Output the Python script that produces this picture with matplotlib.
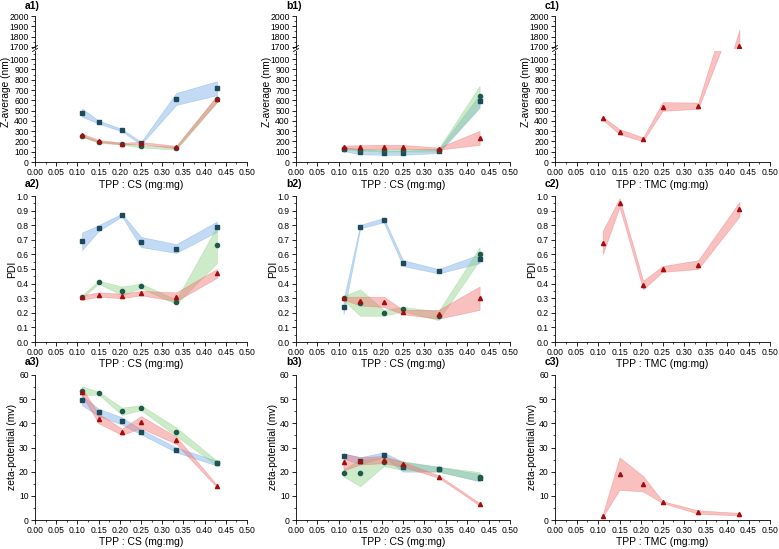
import numpy as np
import matplotlib.pyplot as plt
from matplotlib.ticker import MultipleLocator, FormatStrFormatter

plt.rcParams['font.family'] = ['Liberation Sans', 'DejaVu Sans']

W, H = 779, 549

# TPP : polymer mass ratio
ratio = [0.111, 0.15, 0.205, 0.25, 0.333, 0.429]

# Z-average (nm), mean and sd
a1_sq = [480, 388, 310, 183, 613, 718]
a1_sq_sd = [40, 15, 12, 12, 58, 68]
a1_ci = [255, 195, 178, 152, 135, 610]
a1_ci_sd = [10, 8, 8, 10, 15, 30]
a1_tr = [262, 205, 180, 185, 145, 615]
a1_tr_sd = [15, 10, 8, 10, 12, 30]

b1_sq = [125, 100, 90, 90, 105, 592]
b1_sq_sd = [18, 25, 20, 20, 18, 65]
b1_ci = [130, 120, 112, 115, 115, 640]
b1_ci_sd = [10, 10, 12, 12, 15, 100]
b1_tr = [145, 145, 148, 148, 130, 235]
b1_tr_sd = [15, 18, 20, 18, 10, 68]

c1_tr = [425, 295, 220, 540, 548, 1710]
c1_tr_sd = [15, 25, 18, 42, 30, 160]

# PDI
a2_sq = [0.69, 0.78, 0.87, 0.685, 0.64, 0.79]
a2_sq_sd = [0.06, 0.02, 0.01, 0.035, 0.03, 0.035]
a2_ci = [0.31, 0.41, 0.35, 0.385, 0.275, 0.665]
a2_ci_sd = [0.01, 0.01, 0.03, 0.015, 0.015, 0.125]
a2_tr = [0.305, 0.325, 0.315, 0.335, 0.31, 0.47]
a2_tr_sd = [0.015, 0.015, 0.015, 0.015, 0.03, 0.03]

b2_sq = [0.24, 0.79, 0.835, 0.54, 0.485, 0.57]
b2_sq_sd = [0.05, 0.012, 0.015, 0.02, 0.015, 0.03]
b2_ci = [0.30, 0.27, 0.20, 0.225, 0.18, 0.605]
b2_ci_sd = [0.015, 0.09, 0.02, 0.015, 0.03, 0.045]
b2_tr = [0.30, 0.28, 0.275, 0.205, 0.19, 0.30]
b2_tr_sd = [0.01, 0.03, 0.035, 0.015, 0.03, 0.08]

c2_tr = [0.68, 0.955, 0.39, 0.50, 0.53, 0.91]
c2_tr_sd = [0.08, 0.03, 0.03, 0.02, 0.03, 0.05]

# zeta-potential (mV)
a3_sq = [49.5, 44.5, 41, 36.5, 29, 23.5]
a3_sq_sd = [2, 1.5, 1.5, 1, 1, 1]
a3_ci = [53.5, 52.5, 45, 46.5, 36.5, 23.5]
a3_ci_sd = [1.8, 0.6, 1.5, 1, 1.8, 1]
a3_tr = [53, 42, 36.5, 40.5, 33, 14]
a3_tr_sd = [1.5, 2, 1.3, 2.5, 1.5, 0.5]

b3_sq = [26.5, 24.5, 27, 22, 21, 17.5]
b3_sq_sd = [1, 1.5, 1, 2, 1, 1.5]
b3_ci = [19.5, 19.5, 24, 22.5, 21, 18]
b3_ci_sd = [1.5, 5.5, 1.7, 1.8, 1, 1.8]
b3_tr = [24, 24.5, 25, 23, 18, 6.5]
b3_tr_sd = [3.5, 1.5, 1.5, 1, 0.5, 0.5]

c3_tr = [1.8, 19.2, 15, 7.4, 3.3, 2.4]
c3_tr_sd = [0.5, 6.7, 3.2, 0.4, 0.7, 0.5]

fill_col = {'sq': '#6ea8e6', 'ci': '#88d07e', 'tr': '#f26a6a'}
mark_col = {'sq': '#1d4a5a', 'ci': '#1d5a4a', 'tr': '#a50d0d'}
mark_shape = {'sq': 's', 'ci': 'o', 'tr': '^'}


def rect(x0, x1, y0, y1):
    # pixel box (top y0, bottom y1) -> figure fraction
    return [x0 / W, 1 - y1 / H, (x1 - x0) / W, (y1 - y0) / H]


def style(ax, xaxis=True):
    for s in ['top', 'right']:
        ax.spines[s].set_visible(False)
    for s in ['left', 'bottom']:
        ax.spines[s].set_linewidth(0.6)
    ax.tick_params(which='major', direction='out', length=3, width=0.6,
                   labelsize=6.2, pad=1.5)
    ax.tick_params(which='minor', direction='out', length=1.6, width=0.5)
    ax.set_xlim(0, 0.5)
    ax.xaxis.set_major_locator(MultipleLocator(0.05))
    ax.xaxis.set_minor_locator(MultipleLocator(0.025))
    ax.xaxis.set_major_formatter(FormatStrFormatter('%.2f'))
    if not xaxis:
        ax.spines['bottom'].set_visible(False)
        ax.tick_params(axis='x', which='both', bottom=False, labelbottom=False)


def band(ax, y, sd, kind):
    y = np.array(y)
    sd = np.array(sd)
    ax.fill_between(ratio, y - sd, y + sd, color=fill_col[kind], alpha=0.42,
                    lw=0.5, edgecolor=fill_col[kind], zorder=2)
    ax.plot(ratio, y, ls='none', marker=mark_shape[kind], ms=3,
            mfc=mark_col[kind], mec=mark_col[kind], zorder=5)


fig = plt.figure(figsize=(W / 100, H / 100), dpi=100)

cols = [(35, 247), (296, 510), (555, 770)]
names = ['a', 'b', 'c']
xlabels = ['TPP : CS (mg:mg)', 'TPP : CS (mg:mg)', 'TPP : TMC (mg:mg)']

row1 = [[(a1_sq, a1_sq_sd, 'sq'), (a1_ci, a1_ci_sd, 'ci'), (a1_tr, a1_tr_sd, 'tr')],
        [(b1_sq, b1_sq_sd, 'sq'), (b1_ci, b1_ci_sd, 'ci'), (b1_tr, b1_tr_sd, 'tr')],
        [(c1_tr, c1_tr_sd, 'tr')]]
row2 = [[(a2_sq, a2_sq_sd, 'sq'), (a2_ci, a2_ci_sd, 'ci'), (a2_tr, a2_tr_sd, 'tr')],
        [(b2_sq, b2_sq_sd, 'sq'), (b2_ci, b2_ci_sd, 'ci'), (b2_tr, b2_tr_sd, 'tr')],
        [(c2_tr, c2_tr_sd, 'tr')]]
row3 = [[(a3_sq, a3_sq_sd, 'sq'), (a3_ci, a3_ci_sd, 'ci'), (a3_tr, a3_tr_sd, 'tr')],
        [(b3_sq, b3_sq_sd, 'sq'), (b3_ci, b3_ci_sd, 'ci'), (b3_tr, b3_tr_sd, 'tr')],
        [(c3_tr, c3_tr_sd, 'tr')]]

for i, (x0, x1) in enumerate(cols):
    xc = (x0 + x1) / 2

    # row 1: broken axis
    top = fig.add_axes(rect(x0, x1, 16, 48))
    bot = fig.add_axes(rect(x0, x1, 51, 162))
    for ax in (top, bot):
        for y, sd, k in row1[i]:
            band(ax, y, sd, k)
    style(top, xaxis=False)
    style(bot)
    top.set_ylim(1690, 2000)
    top.yaxis.set_major_locator(MultipleLocator(100))
    top.yaxis.set_minor_locator(MultipleLocator(50))
    bot.set_ylim(0, 1080)
    bot.set_yticks(np.arange(0, 1001, 100))
    bot.yaxis.set_minor_locator(MultipleLocator(50))
    # break marks on the y axis
    for dy in (-2.5, 0.5):
        yy = 1 - (49.5 + dy) / H
        fig.add_artist(plt.Line2D([(x0 - 2.5) / W, (x0 + 2.5) / W],
                                  [yy - 1.5 / H, yy + 1.5 / H],
                                  color='black', lw=0.6))
    fig.text((x0 - 29) / W, 1 - 92 / H, 'Z-average (nm)', rotation=90,
             ha='center', va='center', fontsize=7.3)
    fig.text(xc / W, 1 - 185 / H, xlabels[i], ha='center', va='center', fontsize=7.5)
    fig.text((x0 - 10) / W, 1 - 6 / H, names[i] + '1)', ha='left', va='center',
             fontsize=7.5, fontweight='bold')

    # row 2: PDI
    ax = fig.add_axes(rect(x0, x1, 196, 342))
    for y, sd, k in row2[i]:
        band(ax, y, sd, k)
    style(ax)
    ax.set_ylim(0, 1.0)
    ax.yaxis.set_major_locator(MultipleLocator(0.1))
    ax.yaxis.set_minor_locator(MultipleLocator(0.05))
    ax.yaxis.set_major_formatter(FormatStrFormatter('%.1f'))
    fig.text((x0 - 23) / W, 1 - 269 / H, 'PDI', rotation=90,
             ha='center', va='center', fontsize=7.5)
    fig.text(xc / W, 1 - 364 / H, xlabels[i], ha='center', va='center', fontsize=7.5)
    fig.text((x0 - 10) / W, 1 - 184 / H, names[i] + '2)', ha='left', va='center',
             fontsize=7.5, fontweight='bold')

    # row 3: zeta-potential
    ax = fig.add_axes(rect(x0, x1, 375, 520))
    for y, sd, k in row3[i]:
        band(ax, y, sd, k)
    style(ax)
    ax.set_ylim(0, 60)
    ax.yaxis.set_major_locator(MultipleLocator(10))
    ax.yaxis.set_minor_locator(MultipleLocator(5))
    fig.text((x0 - 23) / W, 1 - 447 / H, 'zeta-potential (mv)', rotation=90,
             ha='center', va='center', fontsize=7.5)
    fig.text(xc / W, 1 - 542 / H, xlabels[i], ha='center', va='center', fontsize=7.5)
    fig.text((x0 - 10) / W, 1 - 362 / H, names[i] + '3)', ha='left', va='center',
             fontsize=7.5, fontweight='bold')

fig.savefig('out.png', dpi=100)
